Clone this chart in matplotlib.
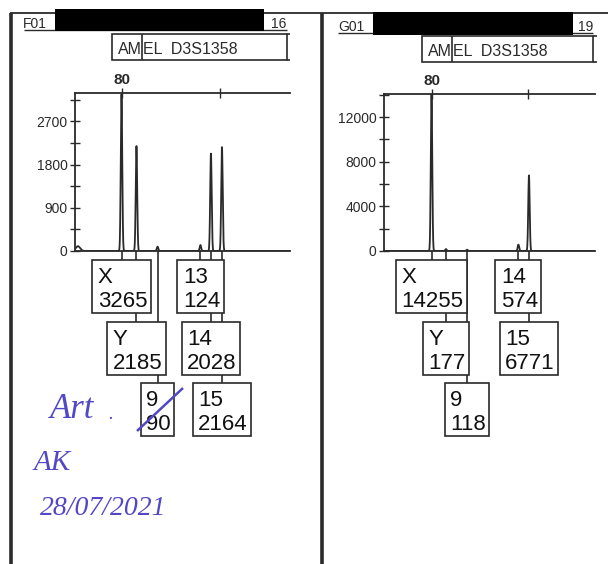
import matplotlib
matplotlib.use('Agg')
import matplotlib.pyplot as plt
import numpy as np
from matplotlib.patches import Rectangle
from matplotlib.lines import Line2D
from matplotlib.ticker import MultipleLocator

# ---------------- data ----------------
left_alleles = ['X', 'Y', '9', '13', '14', '15']
left_sizes = [79.8, 85.9, 94.5, 112.0, 116.3, 120.8]
left_heights = [3265, 2185, 90, 124, 2028, 2164]
left_tiers = [0, 1, 2, 0, 1, 2]
left_artifact_sizes = [62.0]
left_artifact_heights = [100]

right_alleles = ['X', 'Y', '9', '14', '15']
right_sizes = [79.8, 85.8, 94.6, 116.0, 120.4]
right_heights = [14255, 177, 118, 574, 6771]
right_tiers = [0, 1, 2, 0, 1]
right_artifact_sizes = []
right_artifact_heights = []

left_yticks = [0, 900, 1800, 2700]
right_yticks = [0, 4000, 8000, 12000]
size_ticks = [80, 120]
size_ticklabels = ['80', '']
marker_names = ['AM', 'EL  D3S1358']
well_names = ['F01', 'G01']
capillaries = ['16', '19']
note_lines = ['Art', '.', 'AK', '28/07/2021']

# ---------------- layout ----------------
W, H, DPI = 609, 564, 100
LINE = '#2a2a2a'
INK = '#5248c6'
plt.rcParams['font.family'] = ['Liberation Sans', 'DejaVu Sans']

fig = plt.figure(figsize=(W / DPI, H / DPI), dpi=DPI)
fig.patch.set_facecolor('white')


def fx(px):
    return px / W


def fy(py):
    return 1 - py / H


def fig_line(x0, y0, x1, y1, lw=1.2, color=LINE, z=5):
    fig.add_artist(Line2D([fx(x0), fx(x1)], [fy(y0), fy(y1)],
                          transform=fig.transFigure, color=color, lw=lw,
                          zorder=z, solid_capstyle='butt'))


def fig_rect(x0, y0, x1, y1, fc='none', ec=LINE, lw=1.2, z=5):
    fig.add_artist(Rectangle((fx(x0), fy(y1)), fx(x1) - fx(x0), fy(y0) - fy(y1),
                             transform=fig.transFigure, fc=fc, ec=ec, lw=lw, zorder=z))


TIER_TOPS = [9, 71, 132]  # px below baseline
label_texts = []


def panel(alleles, sizes, heights, tiers, art_s, art_h, yticks, ymax,
          x0, x1, ytop, ybase, px80, px120):
    ppb = (px120 - px80) / (size_ticks[1] - size_ticks[0])
    xlim = (size_ticks[0] - (px80 - x0) / ppb, size_ticks[0] + (x1 - px80) / ppb)
    ax = fig.add_axes([fx(x0), fy(ybase), fx(x1) - fx(x0), fy(ytop) - fy(ybase)])
    xs = np.linspace(xlim[0], xlim[1], 6000)
    ys = np.zeros_like(xs)
    for s, h in zip(sizes, heights):
        ys += h * np.exp(-0.5 * ((xs - s) / 0.3) ** 2)
    for s, h in zip(art_s, art_h):
        ys += h * np.exp(-0.5 * ((xs - s) / 0.9) ** 2)
    ax.plot(xs, ys, color=LINE, lw=1.3)
    ax.set_xlim(xlim)
    ax.set_ylim(0, ymax)
    for sp in ['top', 'left', 'bottom']:
        ax.spines[sp].set_color(LINE)
        ax.spines[sp].set_linewidth(1.3)
    ax.spines['right'].set_visible(False)
    ax.set_yticks(yticks)
    ax.set_yticklabels([str(v) for v in yticks])
    ax.yaxis.set_minor_locator(MultipleLocator((yticks[1] - yticks[0]) / 2))
    ax.tick_params(axis='y', which='both', direction='inout', length=7.5,
                   width=1.0, labelsize=10, pad=1.5, colors=LINE)
    ax.xaxis.tick_top()
    ax.set_xticks(size_ticks)
    ax.set_xticklabels(size_ticklabels, fontweight='bold', fontsize=11)
    ax.tick_params(axis='x', direction='inout', length=7, width=1.0, pad=1,
                   colors=LINE)
    ax.patch.set_alpha(0)

    lax = fig.add_axes([fx(x0), 0, fx(x1) - fx(x0), fy(ybase)])
    lax.set_xlim(xlim)
    lax.set_ylim(H - ybase, 0)
    lax.axis('off')
    for a, s, h, t in zip(alleles, sizes, heights, tiers):
        top = TIER_TOPS[t]
        lax.plot([s, s], [0, top], color=LINE, lw=1.2, zorder=1,
                 solid_capstyle='butt')
        txt = lax.text(s + 1.0 / ppb, top + 7, f'{a}\n{h}', ha='center',
                       va='top', multialignment='left', fontsize=16,
                       linespacing=1.17, color='#111111', zorder=4)
        label_texts.append((lax, txt, top))
    return ax


axL = panel(left_alleles, left_sizes, left_heights, left_tiers,
            left_artifact_sizes, left_artifact_heights, left_yticks, 3290,
            75, 290, 93, 251, 122, 220)
axR = panel(right_alleles, right_sizes, right_heights, right_tiers,
            right_artifact_sizes, right_artifact_heights, right_yticks, 14060,
            384, 595, 94, 251, 432, 528)

# boxes around allele labels
fig.canvas.draw()
renderer = fig.canvas.get_renderer()
inv = fig.transFigure.inverted()
for lax, txt, top in label_texts:
    bb = txt.get_window_extent(renderer)
    x0 = bb.x0 - 5.5
    x1 = bb.x1 + 3.5
    ytop_disp = (H - 251 - top)
    ybot_disp = bb.y0 - 1.0
    (fa, fb) = inv.transform((x0, ybot_disp))
    (fc_, fd) = inv.transform((x1, ytop_disp))
    lax.add_patch(Rectangle((fa, fb), fc_ - fa, fd - fb, transform=fig.transFigure,
                            fc='white', ec=LINE, lw=1.2, zorder=3))

# frame lines
fig_line(10, 13, 608, 13, lw=1.3)
fig_line(11, 13, 11, 564, lw=2.6)
fig_line(322, 13, 322, 564, lw=2.6)

# headers
fig_line(24, 30, 287, 30, lw=1.0)
fig.text(fx(23), fy(28), well_names[0], fontsize=10, color=LINE)
fig.text(fx(286), fy(28), capillaries[0], fontsize=10, color=LINE, ha='right')
fig_rect(55, 9, 264, 31, fc='black', ec='black', lw=0, z=6)

fig_line(338, 33, 593, 33, lw=1.0)
fig.text(fx(338), fy(31), well_names[1], fontsize=10, color=LINE)
fig.text(fx(593), fy(31), capillaries[1], fontsize=10, color=LINE, ha='right')
fig_rect(373, 12, 573, 35, fc='black', ec='black', lw=0, z=6)

# marker boxes
for (bx0, bdiv, bx1, bend, by0, by1) in [(112, 142, 287, 290, 34, 60),
                                           (422, 452, 593, 597, 36, 62)]:
    fig_rect(bx0, by0, bx1, by1, lw=1.2)
    fig_line(bdiv, by0, bdiv, by1, lw=1.2)
    fig_line(bx1, by0, bend, by0, lw=1.2)
    fig_line(bx1, by1, bend, by1, lw=1.2)
    fig.text(fx(bx0 + 6), fy(by1 - 6), marker_names[0], fontsize=11.5, color=LINE)
    fig.text(fx(bdiv + 1), fy(by1 - 6), marker_names[1], fontsize=11.5, color=LINE)

# handwritten notes
hw = dict(family=['Liberation Serif', 'DejaVu Serif'], style='italic', color=INK)
fig.text(fx(50), fy(418), note_lines[0], fontsize=25, **hw)
fig.text(fx(108), fy(419), note_lines[1], fontsize=14, **hw)
fig.text(fx(34), fy(470), note_lines[2], fontsize=21, **hw)
fig.text(fx(40), fy(515), note_lines[3], fontsize=20, **hw)
fig_line(137, 431, 183, 388, lw=1.8, color=INK, z=8)

fig.savefig('out.png', dpi=DPI, facecolor='white')
